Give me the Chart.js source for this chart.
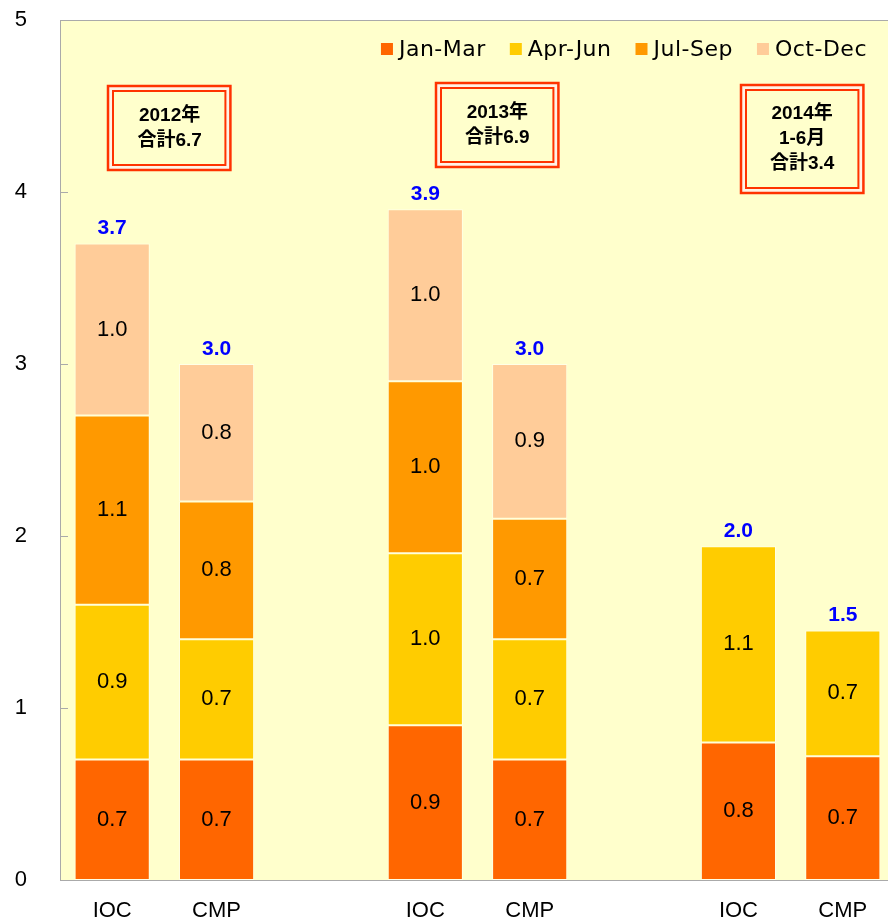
<!DOCTYPE html>
<html lang="ja">
<head>
  <meta charset="UTF-8">
  <title>IOC / CMP</title>
  <script src="https://cdn.jsdelivr.net/npm/chart.js"></script>
  <style>
    html, body { margin: 0; padding: 0; background: #fff; overflow: hidden; }
    #wrap { width: 896px; height: 923px; }
  </style>
</head>
<body>
  <div id="wrap"><canvas id="grafico" width="896" height="923"></canvas></div>
  <script>
    // categorias (colunas vazias separam os anos)
    const categories = ['IOC', 'CMP', '', 'IOC', 'CMP', '', 'IOC', 'CMP'];
    const seriesNames = ['Jan-Mar', 'Apr-Jun', 'Jul-Sep', 'Oct-Dec'];
    const janMar = [0.7, 0.7, null, 0.9, 0.7, null, 0.8, 0.72];
    const aprJun = [0.9, 0.7, null, 1.0, 0.7, null, 1.14, 0.73];
    const julSep = [1.1, 0.8, null, 1.0, 0.7, null, null, null];
    const octDec = [1.0, 0.8, null, 1.0, 0.9, null, null, null];
    const totals = [3.7, 3.0, null, 3.9, 3.0, null, 2.0, 1.5];
    const yTicks = [0, 1, 2, 3, 4, 5];
    const yearNotes = [
      ['2012年', '合計6.7'],
      ['2013年', '合計6.9'],
      ['2014年', '1-6月', '合計3.4']
    ];
    // onde cada caixa fica (em unidades dos eixos)
    const notePos = [
      { x: 0.55, y: 4.37 },
      { x: 3.69, y: 4.39 },
      { x: 6.61, y: 4.31 }
    ];
    const colors = ['#FF6600', '#FFCC00', '#FF9900', '#FFCC99'];
    const FONT = '"Liberation Sans", "Noto Sans CJK JP", sans-serif';

    // fundo amarelo da área do gráfico
    const fundoPlugin = {
      id: 'fundo',
      beforeDraw(chart) {
        const { ctx, chartArea: a } = chart;
        ctx.save();
        ctx.fillStyle = '#FFFFCC';
        ctx.fillRect(a.left, a.top, a.right - a.left, a.bottom - a.top);
        ctx.strokeStyle = '#AAAAAA';
        ctx.lineWidth = 1;
        ctx.strokeRect(a.left + 0.5, a.top + 0.5, a.right - a.left, a.bottom - a.top);
        // marcas do eixo y para dentro
        const y = chart.scales.y;
        y.ticks.forEach(t => {
          const py = Math.round(y.getPixelForValue(t.value)) + 0.5;
          ctx.beginPath();
          ctx.moveTo(a.left, py);
          ctx.lineTo(a.left + 8, py);
          ctx.stroke();
        });
        ctx.restore();
      }
    };

    // rótulos dentro das barras, totais e caixas de anotação
    const rotulosPlugin = {
      id: 'rotulos',
      afterDatasetsDraw(chart) {
        const { ctx } = chart;
        ctx.save();
        ctx.textAlign = 'center';
        ctx.textBaseline = 'middle';
        chart.data.datasets.forEach((ds, di) => {
          const meta = chart.getDatasetMeta(di);
          meta.data.forEach((bar, i) => {
            const v = ds.data[i];
            if (v == null) return;
            ctx.fillStyle = '#000';
            ctx.font = '22px ' + FONT;
            ctx.fillText(v.toFixed(1), bar.x, (bar.y + bar.base) / 2);
          });
        });
        // totais em azul
        totals.forEach((t, i) => {
          if (t == null) return;
          let top = null;
          chart.data.datasets.forEach((ds, di) => {
            if (ds.data[i] != null) top = chart.getDatasetMeta(di).data[i];
          });
          ctx.fillStyle = '#0000FF';
          ctx.font = 'bold 21px ' + FONT;
          ctx.fillText(t.toFixed(1), top.x, top.y - 15);
        });
        // caixas com borda dupla
        const xs = chart.scales.x, ys = chart.scales.y;
        yearNotes.forEach((lines, k) => {
          const cx = xs.getPixelForValue(notePos[k].x);
          const cy = ys.getPixelForValue(notePos[k].y);
          ctx.font = 'bold 19px ' + FONT;
          const tw = Math.max(...lines.map(l => ctx.measureText(l).width));
          const w = tw + 60, h = lines.length * 24 + 38;
          const x0 = Math.round(cx - w / 2), y0 = Math.round(cy - h / 2);
          ctx.fillStyle = '#FFF2E6';
          ctx.fillRect(x0, y0, w, h);
          ctx.strokeStyle = '#FF3300';
          ctx.lineWidth = 2.5;
          ctx.strokeRect(x0 + 1, y0 + 1, w - 2, h - 2);
          ctx.fillStyle = '#FFFFCC';
          ctx.fillRect(x0 + 6, y0 + 6, w - 12, h - 12);
          ctx.lineWidth = 2;
          ctx.strokeRect(x0 + 6, y0 + 6, w - 12, h - 12);
          ctx.fillStyle = '#000';
          lines.forEach((l, j) => {
            ctx.fillText(l, cx, cy + (j - (lines.length - 1) / 2) * 25);
          });
        });
        ctx.restore();
      }
    };

    // legenda dentro da área do gráfico, alinhada à direita
    const legendaPlugin = {
      id: 'legenda',
      afterDraw(chart) {
        const { ctx, chartArea: a } = chart;
        ctx.save();
        ctx.font = '22px "DejaVu Sans", sans-serif';
        ctx.letterSpacing = '0.5px';
        ctx.textBaseline = 'middle';
        ctx.textAlign = 'left';
        const items = chart.data.datasets.map(ds => ({ label: ds.label, color: ds.backgroundColor }));
        const gap = 24, box = 12, sp = 6;
        let total = 0;
        items.forEach(it => { it.w = box + sp + ctx.measureText(it.label).width; total += it.w; });
        total += gap * (items.length - 1);
        let x = 867 - total;
        const y = a.top + 29;
        items.forEach(it => {
          ctx.fillStyle = it.color;
          ctx.fillRect(x, y - box / 2, box, box);
          ctx.fillStyle = '#000';
          ctx.fillText(it.label, x + box + sp, y + 1);
          x += it.w + gap;
        });
        ctx.restore();
      }
    };

    const seriesData = [janMar, aprJun, julSep, octDec];
    new Chart(document.getElementById('grafico').getContext('2d'), {
      type: 'bar',
      data: {
        labels: categories,
        datasets: seriesNames.map((name, i) => ({
          label: name,
          data: seriesData[i],
          backgroundColor: colors[i],
          borderColor: 'rgba(255,255,255,0.5)',
          borderWidth: 1,
          borderSkipped: false,
          categoryPercentage: 1,
          barPercentage: 0.72
        }))
      },
      options: {
        responsive: false,
        animation: false,
        layout: { padding: { left: 12, top: 20, right: 1, bottom: 2 } },
        plugins: {
          legend: { display: false },
          tooltip: { enabled: false }
        },
        scales: {
          x: {
            stacked: true,
            grid: { display: false },
            border: { display: false },
            afterFit(scale) { scale.height = 41; },
            ticks: { color: '#000', font: { family: FONT, size: 22 }, padding: 10 }
          },
          y: {
            stacked: true,
            min: 0,
            max: 5,
            afterBuildTicks(scale) { scale.ticks = yTicks.map(v => ({ value: v })); },
            afterFit(scale) {
              scale.width = 48;
              scale.paddingTop = 0;
              scale.paddingBottom = 0;
            },
            grid: { display: false },
            border: { display: false },
            ticks: { color: '#000', font: { family: FONT, size: 22 }, padding: 25 }
          }
        }
      },
      plugins: [fundoPlugin, rotulosPlugin, legendaPlugin]
    });
  </script>
</body>
</html>
